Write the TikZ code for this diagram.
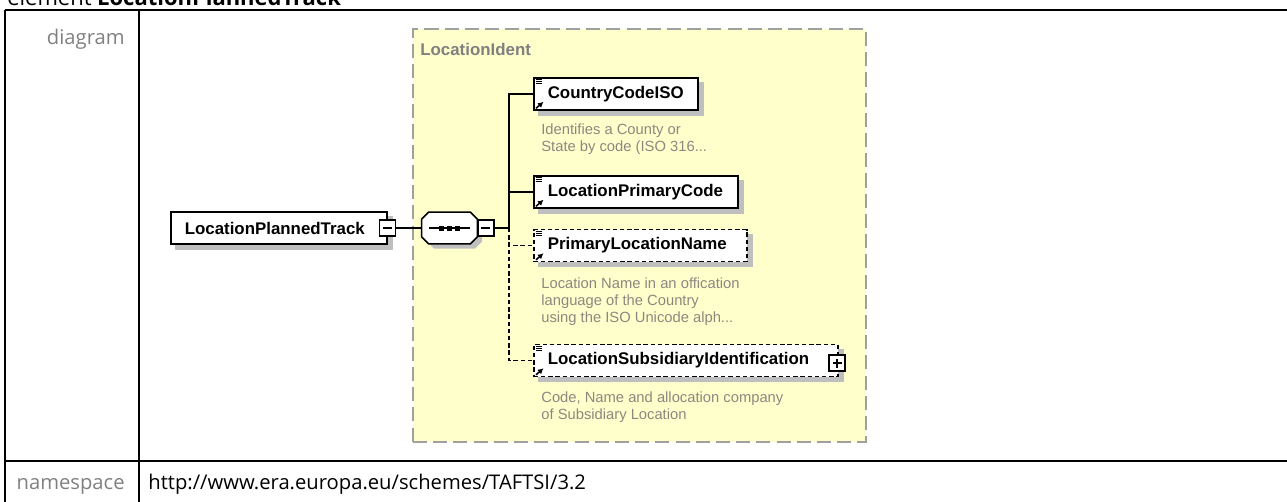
\documentclass[tikz,border=0pt]{standalone}
\usepackage{fontspec}
\setmainfont{Open Sans}
\newfontfamily\diagfont{Liberation Sans}
\usetikzlibrary{arrows.meta,positioning}

\definecolor{labelgray}{RGB}{128,128,128}
\definecolor{descgray}{RGB}{140,136,128}
\definecolor{groupfill}{RGB}{255,255,204}
\definecolor{groupline}{RGB}{160,160,160}

\pgfdeclarelayer{back}
\pgfdeclarelayer{shade}
\pgfsetlayers{back,shade,main}

\begin{document}
\begin{tikzpicture}[x=0.02cm, y=-0.02cm, >=latex,
    tableline/.style={line width=1.1pt},
    rowlabel/.style={anchor=base east, inner sep=0pt, text=labelgray, font=\fontsize{11.5}{13}\selectfont},
    elem/.style={draw, fill=white, line width=0.9pt, anchor=west,
        minimum height=0.64cm, inner xsep=0.28cm, inner ysep=0pt, align=left,
        font=\diagfont\bfseries\fontsize{9.6}{11}\selectfont},
    optelem/.style={elem, dash pattern=on 2.5pt off 1.6pt},
    desc/.style={anchor=north west, inner sep=0pt, align=left, text=descgray,
        font=\diagfont\fontsize{8.4}{9.6}\selectfont},
    collapse/.style={draw, fill=white, line width=0.7pt, minimum size=0.32cm, inner sep=0pt,
        path picture={\draw[line width=0.7pt] ([xshift=0.07cm]path picture bounding box.west) -- ([xshift=-0.07cm]path picture bounding box.east);}},
    expand/.style={collapse,
        path picture={\draw[line width=0.7pt] ([xshift=0.07cm]path picture bounding box.west) -- ([xshift=-0.07cm]path picture bounding box.east);
            \draw[line width=0.7pt] ([yshift=-0.07cm]path picture bounding box.north) -- ([yshift=0.07cm]path picture bounding box.south);}},
    seqbox/.style={minimum width=1.1cm, minimum height=0.62cm, inner sep=0pt},
    shadow/.style={fill=black!25},
    conn/.style={line width=0.8pt},
    optconn/.style={conn, dash pattern=on 2.5pt off 1.6pt}]

\useasboundingbox (0,0) rectangle (1287,501);

% page title, cut by the top edge
\node[anchor=base west, inner sep=0pt, font=\fontsize{12.5}{14}\selectfont] (title) at (7,5) {element \textbf{LocationPlannedTrack}};

% table frame
\draw[tableline] (5,10) -- (1300,10);
\draw[tableline] (5,10) -- (5,520);
\draw[tableline] (139,10) -- (139,520);
\draw[tableline] (5,461) -- (1300,461);

\node[rowlabel] (diaglbl) at (125,44) {diagram};
\node[rowlabel] (nslbl) at (125,489) {namespace};
\node[anchor=base west, inner sep=0pt, font=\fontsize{11.5}{13}\selectfont] (nsval) at (148,489) {http://www.era.europa.eu/schemes/TAFTSI/3.2};

% group LocationIdent
\begin{pgfonlayer}{back}
\node[draw=groupline, fill=groupfill, line width=1pt, dash pattern=on 8pt off 3.5pt,
    anchor=north west, minimum width=9.06cm, minimum height=8.26cm, inner sep=0pt] (grp) at (412,28) {};
\end{pgfonlayer}
\node[anchor=west, inner sep=0pt, text=labelgray, font=\diagfont\bfseries\fontsize{9.6}{11}\selectfont] (grplbl) at (420,49) {LocationIdent};

% root element and sequence
\node[elem, text width=3.76cm] (lpt) at (170,228) {LocationPlannedTrack};
\begin{pgfonlayer}{shade}
\fill[shadow] ([xshift=0.1cm, yshift=-0.1cm]lpt.north west) rectangle ([xshift=0.1cm, yshift=-0.1cm]lpt.south east);
\end{pgfonlayer}
\node[collapse] (lptm) at (lpt.east) {};
\fill[shadow, xshift=0.1cm, yshift=-0.1cm] (429,212.5) -- (470,212.5) -- (477,219.5) -- (477,236.5)
    -- (470,243.5) -- (429,243.5) -- (422,236.5) -- (422,219.5) -- cycle;
\node[seqbox] (seq) at (449.5,228) {};
\draw[fill=white, line width=0.9pt] ([xshift=0.14cm]seq.north west) -- ([xshift=-0.14cm]seq.north east)
    -- ([yshift=-0.14cm]seq.north east) -- ([yshift=0.14cm]seq.south east)
    -- ([xshift=-0.14cm]seq.south east) -- ([xshift=0.14cm]seq.south west)
    -- ([yshift=0.14cm]seq.south west) -- ([yshift=-0.14cm]seq.north west) -- cycle;
\draw[line width=0.7pt] ([xshift=-0.41cm]seq.center) -- ([xshift=0.41cm]seq.center);
\foreach \dx in {-0.16,0,0.16}
    \fill[black] ([xshift=\dx cm]seq.center) +(-0.05cm,-0.05cm) rectangle +(0.05cm,0.05cm);
\node[collapse, anchor=west] (seqm) at (seq.east) {};
\coordinate (spine) at (509,228);

% child elements
\node[elem, text width=2.72cm] (cc) at (533,94) {CountryCodeISO};
\node[elem, text width=3.52cm] (lpc) at (533,192) {LocationPrimaryCode};
\node[optelem, text width=3.7cm] (pln) at (533,245.5) {PrimaryLocationName};
\node[optelem, text width=5.52cm] (lsi) at (533,360.5) {LocationSubsidiaryIdentification};
\node[expand] (lsip) at ([xshift=-0.03cm, yshift=-0.05cm]lsi.east) {};

% shadows
\begin{pgfonlayer}{shade}
\foreach \n in {cc,lpc,pln,lsi}
    \fill[shadow] ([xshift=0.1cm, yshift=-0.1cm]\n.north west) rectangle ([xshift=0.1cm, yshift=-0.1cm]\n.south east);
\end{pgfonlayer}

% element icons
\foreach \n in {cc,lpc,pln,lsi} {
    \foreach \dy in {0.05,0.09,0.13}
        \draw[line width=0.5pt] ([xshift=0.05cm, yshift=-\dy cm]\n.north west) -- ++(0.13cm,0);
    \draw[-{Latex[length=3.2pt,width=3.4pt]}, line width=0.9pt] ([xshift=0.06cm, yshift=0.05cm]\n.south west) -- ++(0.15cm,0.13cm);
}

% descriptions
\node[desc] (ccdesc) at ([xshift=0.16cm, yshift=-0.26cm]cc.south west) {Identifies a County or\\State by code (ISO 316...};
\node[desc] (plndesc) at ([xshift=0.16cm, yshift=-0.3cm]pln.south west) {Location Name in an offication\\language of the Country\\using the ISO Unicode alph...};
\node[desc] (lsidesc) at ([xshift=0.16cm, yshift=-0.28cm]lsi.south west) {Code, Name and allocation company\\of Subsidiary Location};

% connectors
\draw[conn] (lptm) -- (seq);
\draw[conn] (seqm) -- (spine);
\draw[conn] (spine) |- (cc);
\draw[conn] (spine) |- (lpc);
\draw[optconn] (spine) |- (pln);
\draw[optconn] (spine) |- (lsi);
\end{tikzpicture}
\end{document}
